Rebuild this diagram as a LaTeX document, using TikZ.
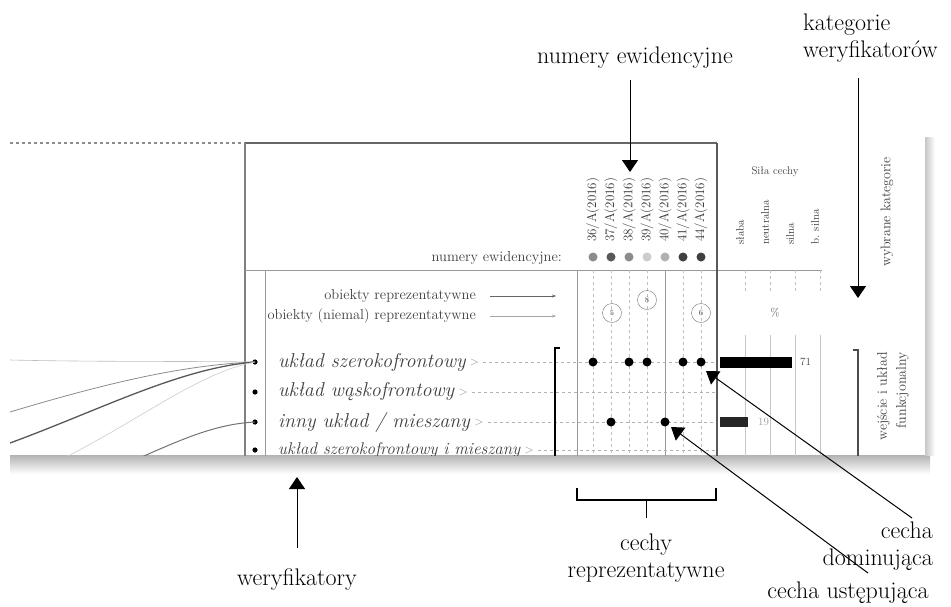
\documentclass[tikz,border=0pt]{standalone}
\usepackage{tikz}
\usetikzlibrary{arrows.meta,calc}
\usetikzlibrary{positioning}

\tikzset{
  anntext/.style={font=\fontsize{24}{27}\selectfont, inner sep=0pt},
  annarrow/.style={-{Triangle[width=16pt,length=12pt]}, line width=1pt},
  annline/.style={line width=1pt},
  rowtext/.style={text=black!75, anchor=west, inner sep=0pt},
  smalltext/.style={font=\fontsize{14.5}{15}\selectfont, text=black!75, inner sep=0pt},
  tinytext/.style={font=\fontsize{11}{13}\selectfont, text=black!75, inner sep=0pt},
  coltext/.style={font=\fontsize{13}{14}\selectfont, text=black!80, rotate=90, anchor=west, inner sep=0pt},
  colline/.style={black!25, dashed, line width=0.6pt},
  rowline/.style={black!30, dashed, line width=0.6pt},
  featdot/.style={circle, fill=black, inner sep=0pt, minimum size=9pt},
  numcircle/.style={circle, draw=black!55, inner sep=0pt, minimum size=19pt, font=\fontsize{8}{9}\selectfont, text=black!70}
}

\begin{document}
\begin{tikzpicture}[x=1pt,y=-1pt]
                \useasboundingbox (0,0) rectangle (951,606);
                \fill[top color=black!30, bottom color=white] (10,455) rectangle (930,474);
                \fill[left color=black!22, right color=white] (925,137) rectangle (935,455);
                \begin{scope}
                \clip (10,137) rectangle (925,455);
                \fill[white] (10,137) rectangle (925,455);
                \draw[black!45, dashed, line width=1.4pt] (10,143) -- (245,143);
                \draw[black!60, line width=2.2pt] (245,143) -- (717,143);
                \draw[black!50, line width=1.2pt] (245,143) -- (245,460);
                \draw[black!40, line width=0.8pt] (265,270) -- (265,460);
                \draw[black!40, line width=1pt] (245,270) -- (822,270);
                \draw[black!40, line width=1pt] (577,270) -- (577,460);
                \draw[black!40, line width=1pt] (665,270) -- (665,460);
                \foreach \cx in {593,611,629,647,683,701}
                    \draw[colline] (\cx,270) -- (\cx,460);
                \foreach \cx/\lab/\shade in {593/36/45,611/37/65,629/38/45,647/39/20,665/40/30,683/41/75,701/44/75} {
                    \node[coltext] (col\lab) at (\cx,242) {\lab/A(2016)};
                    \fill[black!\shade] (\cx,257) circle (4.5pt);
                }
                \node[smalltext, anchor=east] (numinner) at (562,258) {numery ewidencyjne:};
                \node[smalltext, anchor=east] (leg1) at (476,296) {obiekty reprezentatywne};
                \node[smalltext, anchor=east] (leg2) at (476,316) {obiekty (niemal) reprezentatywne};
                \draw[black!60, -{Stealth[length=4pt]}] (leg1.east) ++(14,0) -- ++(66,0);
                \draw[black!35, -{Stealth[length=4pt]}] (leg2.east) ++(14,0) -- ++(66,0);
                \node[numcircle] (c1) at (612,313) {5};
                \node[numcircle] (c2) at (647,300) {8};
                \node[numcircle] (c3) at (701,313) {6};
                \foreach \row/\ry/\fs/\txt in {1/362/20/{układ szerokofrontowy},2/392/20/{układ wąskofrontowy},3/422/20/{inny układ / mieszany},4/450/17/{układ szerokofrontowy i mieszany}} {
                    \fill[black] (255,\ry) circle (2.6pt) coordinate (rdot\row);
                    \node[rowtext, font=\fontsize{\fs}{22}\selectfont\itshape] (row\row) at (278,\ry) {\txt};
                    \node[font=\fontsize{12}{13}\selectfont, text=black!45, right=4pt of row\row, inner sep=0pt] (mark\row) {$>$};
                    \draw[rowline] (mark\row.east) ++(4,0) -- (717,\ry);
                }
                \draw[black!25, line width=0.6pt] (10,360) .. controls (100,362) and (180,361) .. (rdot1);
                \draw[black!45, line width=0.8pt] (10,412) .. controls (100,385) and (180,365) .. (rdot1);
                \draw[black!65, line width=1.3pt] (10,443) .. controls (100,410) and (180,368) .. (rdot1);
                \draw[black!20, line width=0.6pt] (60,460) .. controls (140,420) and (200,372) .. (rdot1);
                \draw[black!55, line width=1pt] (135,460) .. controls (180,440) and (215,424) .. (rdot3);
                \foreach \cx in {593,629,647,683,701}
                    \node[featdot] at (\cx,362) {};
                \node[featdot] (weak1) at (611,422) {};
                \node[featdot] (weak2) at (665,422) {};
                \draw[black, line width=2pt] (560,348) -- (555,348) -- (555,460);
                \draw[black!65, line width=2.4pt] (717,143) -- (717,460);
                \node[tinytext] (sila) at (775,172) {Siła cechy};
                \foreach \cx/\txt in {740/słaba,765/neutralna,790/silna,815/b. silna}
                    \node[coltext, font=\fontsize{11}{12}\selectfont] at (\cx,245) {\txt};
                \foreach \cx in {745,770,795,820} {
                    \draw[colline] (\cx,270) -- (\cx,292);
                    \draw[black!22, line width=1pt] (\cx,335) -- (\cx,460);
                }
                \node[tinytext] (pct) at (775,313) {\%};
                \fill[black] (720,357) rectangle (792,368);
                \node[tinytext, anchor=west] (val1) at (800,362) {71};
                \fill[black!85] (720,417) rectangle (748,427);
                \node[tinytext, anchor=west, text=black!40] (val3) at (758,422) {19};
                \node[smalltext, font=\fontsize{14}{15}\selectfont, rotate=90] (wybrane) at (887,212) {wybrane kategorie};
                \draw[black!70, line width=2.4pt] (853,350) -- (858,350) -- (858,460);
                \node[smalltext, rotate=90, anchor=north east, align=right, font=\fontsize{14}{19}\selectfont] (wejscie) at (877,352) {wejście i układ\\funkcjonalny};
                \end{scope}
                \node[anntext] (numlab) at (635,58) {numery ewidencyjne};
                \coordinate (numtail) at (630,80);
                \coordinate (numtip) at (630,172);
                \draw[annarrow] (numtail) -- (numtip);
                \node[anntext, align=left, anchor=west] (katlab) at (803,38) {kategorie\\weryfikatorów};
                \coordinate (kattail) at (858,78);
                \coordinate (kattip) at (858,298);
                \draw[annarrow] (kattail) -- (kattip);
                \node[anntext] (werlab) at (297,580) {weryfikatory};
                \coordinate (wertail) at (297,548);
                \coordinate (wertip) at (297,477);
                \draw[annarrow] (wertail) -- (wertip);
                \coordinate (brl) at (577,488);
                \coordinate (brr) at (716,488);
                \draw[annline, line width=1.3pt] (brl) -- ++(0,12) -- ($(brr)+(0,12)$) -- (brr);
                \node[anntext, align=center] (cechlab) at (646,558) {cechy\\reprezentatywne};
                \draw[annline] ($(brl)!0.5!(brr)+(0,12)$) -- ++(0,18);
                \node[anntext, align=right, anchor=east] (domlab) at (933,546) {cecha\\dominująca};
                \coordinate (domtail) at (912,518);
                \coordinate (domtip) at (706,371);
                \draw[annarrow] (domtail) -- (domtip);
                \node[anntext] (ustlab) at (848,593) {cecha ustępująca};
                \coordinate (usttail) at (868,573);
                \coordinate (usttip) at (671,427);
                \draw[annarrow] (usttail) -- (usttip);
            \end{tikzpicture}
\end{document}
